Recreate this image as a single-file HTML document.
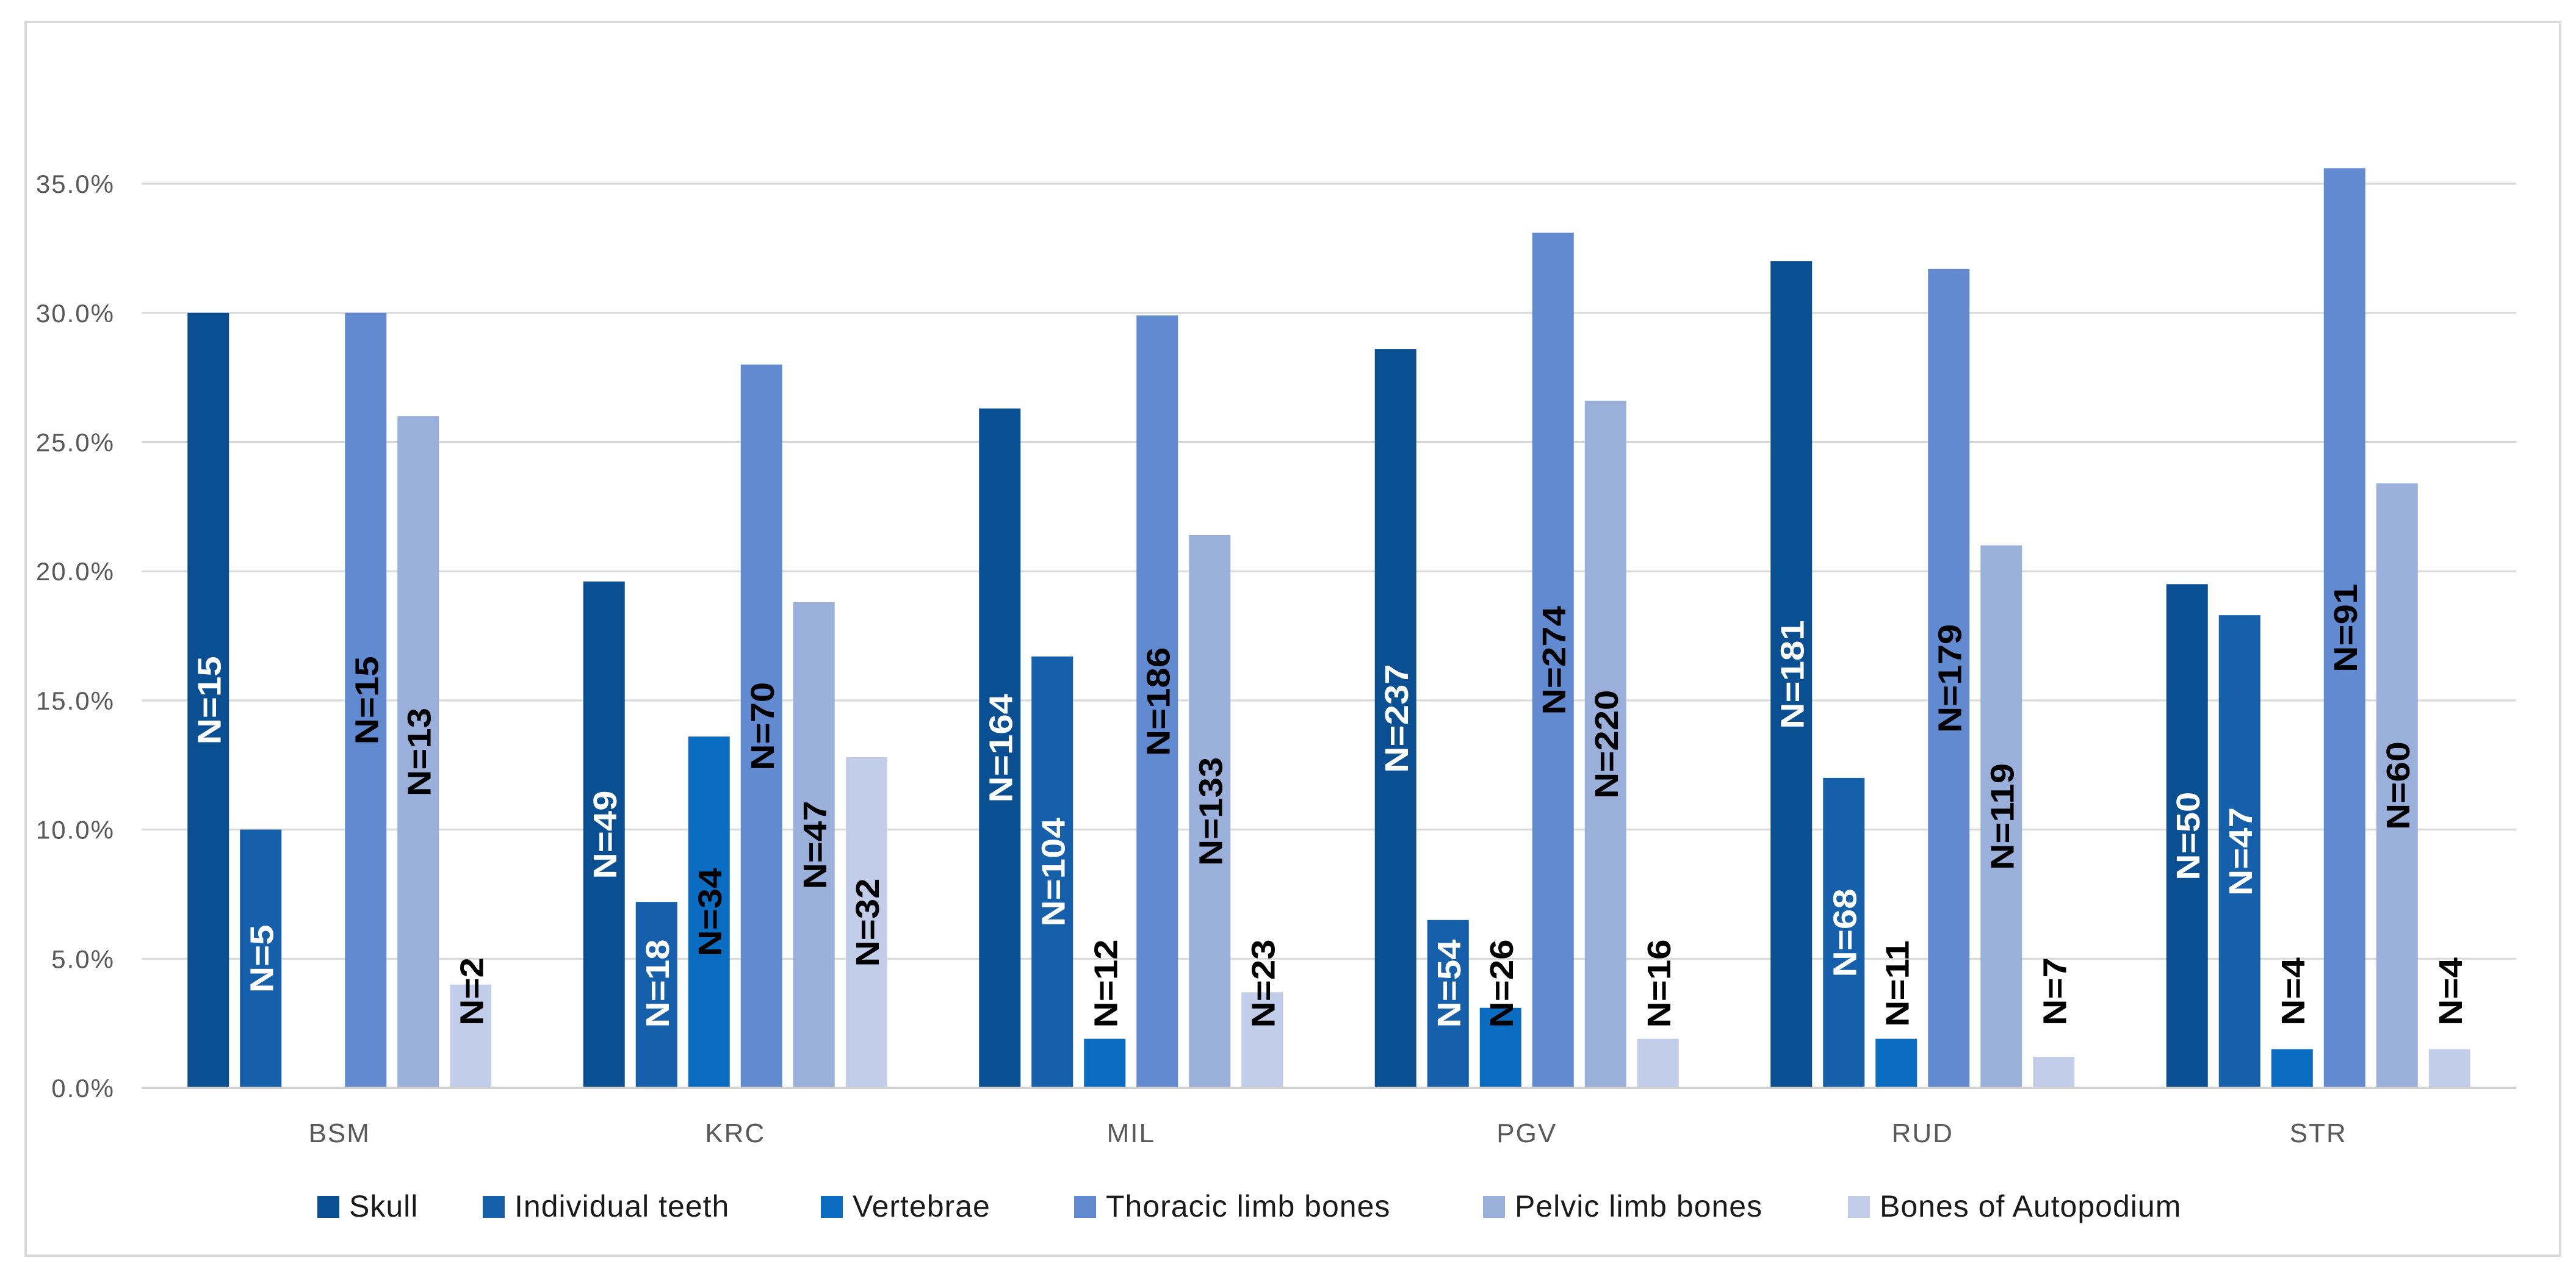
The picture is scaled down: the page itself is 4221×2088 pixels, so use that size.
<!DOCTYPE html>
<html><head><meta charset="utf-8"><style>
html,body{margin:0;padding:0;background:#fff;}
svg{display:block;}
</style></head><body>
<svg id="chart" width="4221" height="2088" xmlns="http://www.w3.org/2000/svg">
<rect x="42" y="36" width="4153" height="2022" fill="#fff" stroke="#d9d9d9" stroke-width="4"/>
<g id="grid"></g><g id="bars"></g><g id="labels"></g><g id="axes"></g><g id="legend"></g>
</svg>
<script>
const categories = ["BSM","KRC","MIL","PGV","RUD","STR"];
const seriesNames = ["Skull","Individual teeth","Vertebrae","Thoracic limb bones","Pelvic limb bones","Bones of Autopodium"];
const skull = [30.0,19.6,26.3,28.6,32.0,19.5];
const teeth = [10.0,7.2,16.7,6.5,12.0,18.3];
const vertebrae = [0,13.6,1.9,3.1,1.9,1.5];
const thoracic = [30.0,28.0,29.9,33.1,31.7,35.6];
const pelvic = [26.0,18.8,21.4,26.6,21.0,23.4];
const autopodium = [4.0,12.8,3.7,1.9,1.2,1.5];
const skullN = ["N=15","N=49","N=164","N=237","N=181","N=50"];
const teethN = ["N=5","N=18","N=104","N=54","N=68","N=47"];
const vertebraeN = ["","N=34","N=12","N=26","N=11","N=4"];
const thoracicN = ["N=15","N=70","N=186","N=274","N=179","N=91"];
const pelvicN = ["N=13","N=47","N=133","N=220","N=119","N=60"];
const autopodiumN = ["N=2","N=32","N=23","N=16","N=7","N=4"];
const yTicks = [0,5,10,15,20,25,30,35];
const yTickLabels = ["0.0%","5.0%","10.0%","15.0%","20.0%","25.0%","30.0%","35.0%"];

const values=[skull,teeth,vertebrae,thoracic,pelvic,autopodium];
const nlabels=[skullN,teethN,vertebraeN,thoracicN,pelvicN,autopodiumN];
const colors=["#0a4f91","#165fab","#0b6dc1","#628ad1","#9ab0db","#c1cde9"];
const labelColors=["#fff","#fff","#000","#000","#000","#000"];
const NS="http://www.w3.org/2000/svg";
const plotL=232, plotR=4123, y0=1783, pxPerPct=42.34;
const catW=(plotR-plotL)/categories.length;
const barW=68, stride=86;
function yScale(v){return y0-v*pxPerPct;}
function xBar(c,s){return plotL+c*catW+(catW-(seriesNames.length*stride-(stride-barW)))/2+s*stride;}
function mk(tag,attrs,parent){const e=document.createElementNS(NS,tag);for(const k in attrs)e.setAttribute(k,attrs[k]);parent.appendChild(e);return e;}
const grid=document.getElementById('grid'),bars=document.getElementById('bars'),labels=document.getElementById('labels'),axes=document.getElementById('axes'),legend=document.getElementById('legend');
yTicks.forEach((t,i)=>{
  const y=yScale(t);
  if(t>0){const l=mk('line',{x1:plotL,x2:plotR,y1:y,y2:y,stroke:'#d9d9d9','stroke-width':3},grid);
  
  }
  const tx=mk('text',{x:188,y:y+15,'text-anchor':'end','font-family':'Liberation Sans, sans-serif','font-size':42,fill:'#595959','letter-spacing':2},axes);
  tx.textContent=yTickLabels[i];
  
  
});
const ax=mk('line',{x1:plotL,x2:plotR,y1:y0,y2:y0,stroke:'#d0d0d0','stroke-width':4},axes);


categories.forEach((c,ci)=>{
  const t=mk('text',{x:plotL+ci*catW+catW/2,y:1872,'text-anchor':'middle','font-family':'Liberation Sans, sans-serif','font-size':44,fill:'#595959','letter-spacing':2},axes);
  t.textContent=c;
  
  
  values.forEach((arr,si)=>{
    const v=arr[ci]; if(!(v>0))return;
    const x=xBar(ci,si), y=yScale(v);
    const r=mk('rect',{x:x,y:y,width:barW,height:y0-y,fill:colors[si]},bars);
    
    
    const lab=nlabels[si][ci]; if(!lab)return;
    const len=lab.length*26+18;
    const cx=x+barW/2;
    let cy=(y+y0)/2;
    if(cy+len/2>y0-110) cy=y0-110-len/2;
    const lt=mk('text',{x:0,y:0,transform:`translate(${cx+20},${cy}) rotate(-90) scale(1,0.9)`,'text-anchor':'middle','font-family':'Liberation Sans Narrow, Liberation Sans, sans-serif','font-weight':'bold','font-size':60,fill:labelColors[si]},labels);
    lt.textContent=lab;
    
    
  });
});
const legX=[520,791,1345,1760,2430,3028];
seriesNames.forEach((n,i)=>{
  const g=mk('g',{},legend);
  
  
  mk('rect',{x:legX[i],y:1960,width:36,height:36,fill:colors[i]},g);
  const t=mk('text',{x:legX[i]+52,y:1994,'font-family':'Liberation Sans, sans-serif','font-size':50,fill:'#1a1a1a','letter-spacing':1},g);
  t.textContent=n;
});
</script>
</body></html>
